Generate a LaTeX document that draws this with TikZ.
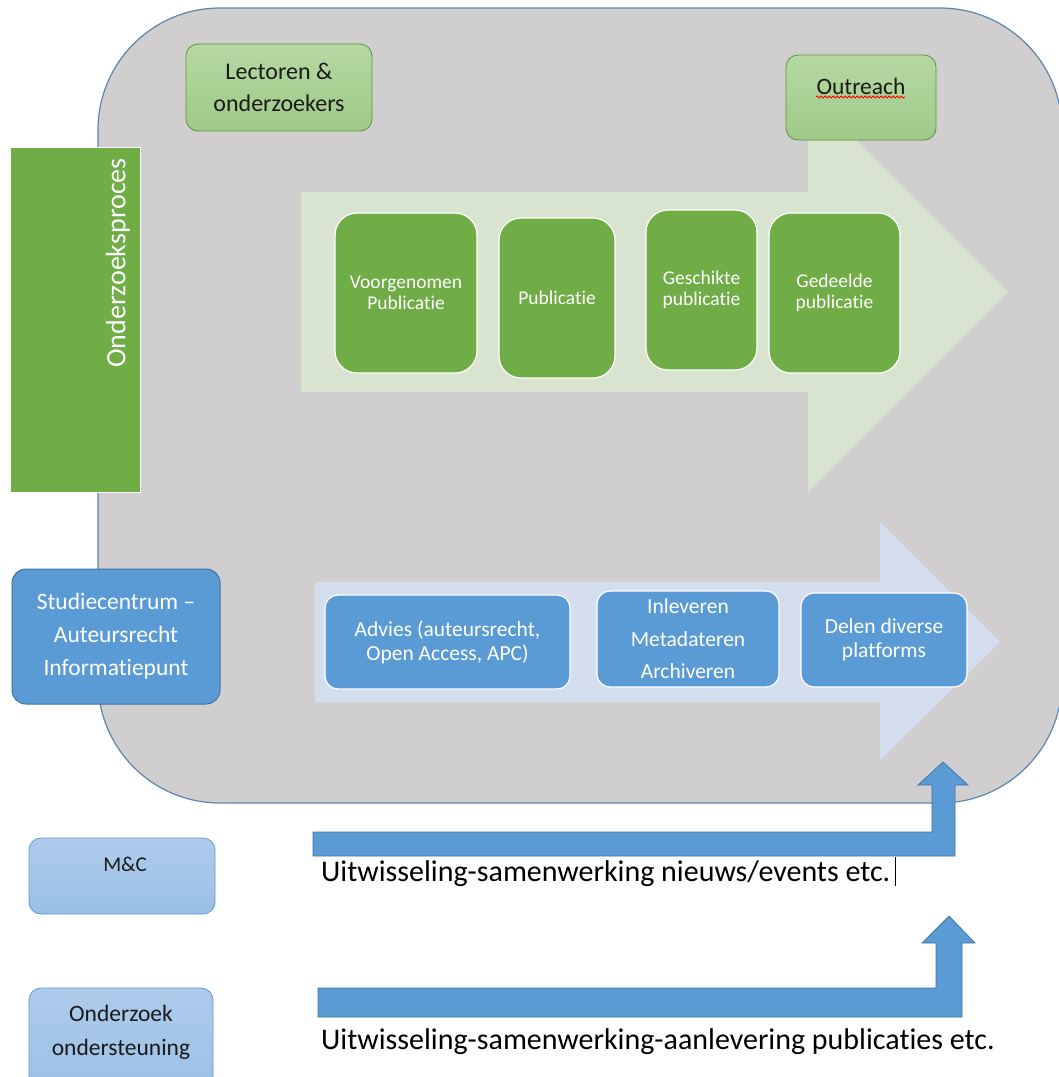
\documentclass[tikz,border=0pt]{standalone}
\usepackage{fontspec}
\setmainfont{Carlito}[Ligatures=NoCommon]
\usetikzlibrary{decorations.pathmorphing}
\definecolor{graybg}{HTML}{D0CECE}
\definecolor{boxblue}{HTML}{41719C}
\definecolor{pgreen}{HTML}{70AD47}
\definecolor{lgreen}{HTML}{D8E4D0}
\definecolor{lblue}{HTML}{D5DEEF}
\definecolor{pblue}{HTML}{5B9BD5}
\definecolor{gtop}{HTML}{B6D8A3}
\definecolor{gbot}{HTML}{9FCA88}
\definecolor{btop}{HTML}{AECBEB}
\definecolor{bbot}{HTML}{9AC0E6}
\definecolor{txt}{HTML}{1A1A1A}
\begin{document}
\begin{tikzpicture}[x=1pt,y=-1pt,
  lgbox/.style={rounded corners=12, draw=pgreen!85!black, line width=0.8, top color=gtop, bottom color=gbot, inner sep=0, text=txt, align=center},
  gstep/.style={rounded corners=22, draw=white, line width=1.2, fill=pgreen, inner sep=0, text=white, align=center, font=\fontsize{19.5}{21}\selectfont},
  bstep/.style={rounded corners=13, draw=white, line width=1.2, fill=pblue, inner sep=0, text=white, align=center, font=\fontsize{21.5}{24}\selectfont},
  lbbox/.style={rounded corners=12, draw=pblue, line width=0.8, top color=btop, bottom color=bbot, inner sep=0, text=txt, align=center},
  bentarrow/.style={fill=pblue, draw=boxblue, line width=0.7},
  plain/.style={inner sep=0, text=black, font=\fontsize{30}{34}\selectfont, anchor=west}
]
\useasboundingbox (0,0) rectangle (1059,1077);
\clip (0,0) rectangle (1059,1077);
% background panel
\draw[fill=graybg, draw=boxblue!85!white, line width=1.2, rounded corners=122] (98,8) rectangle (1062,803);
% big arrows
\fill[lgreen] (301,192) -- (808,192) -- (808,92) -- (1008,292) -- (808,492) -- (808,392) -- (301,392) -- cycle;
\fill[lblue] (315,582) -- (880,582) -- (880,522) -- (1000,642) -- (880,760) -- (880,702) -- (315,702) -- cycle;
% side labels
\node[draw=white, line width=1, fill=pgreen, minimum width=130, minimum height=345, inner sep=0] (proc) at (75,319.5) {};
\node[rotate=90, text=white, inner sep=0, font=\fontsize{28}{30}\selectfont] (proclab) at (118,263) {Onderzoeksproces};
\node[lgbox, minimum width=186, minimum height=87, font=\fontsize{24}{32}\selectfont] (lect) at (279,87.5) {Lectoren \&\\onderzoekers};
\node[lgbox, minimum width=150, minimum height=85] (outr) at (861,97.5) {};
\node[inner sep=0, text=txt, font=\fontsize{23.5}{26}\selectfont] (outrlab) at (861,86) {Outreach};
\draw[red, line width=0.8, decorate, decoration={snake, amplitude=1.1, segment length=4}] (816,97) -- (905,97);
% green steps
\node[gstep, minimum width=142, minimum height=160] (s1) at (406,293) {Voorgenomen\\Publicatie};
\node[gstep, minimum width=116, minimum height=160] (s2) at (557,298) {Publicatie};
\node[gstep, minimum width=111, minimum height=160] (s3) at (701.5,290) {Geschikte\\publicatie};
\node[gstep, minimum width=131, minimum height=160] (s4) at (834.5,293) {Gedeelde\\publicatie};
% blue steps
\node[rounded corners=14, draw=boxblue, line width=1, fill=pblue, inner sep=0, text=white, align=center, font=\fontsize{23.5}{33}\selectfont, minimum width=208, minimum height=135] (stud) at (116,636.5) {Studiecentrum --\\Auteursrecht\\Informatiepunt};
\node[bstep, minimum width=245, minimum height=94] (b1) at (447.5,642) {Advies (auteursrecht,\\Open Access, APC)};
\node[bstep, minimum width=182, minimum height=96, font=\fontsize{21.5}{32.5}\selectfont] (b2) at (688,639) {Inleveren\\Metadateren\\Archiveren};
\node[bstep, minimum width=166, minimum height=94] (b3) at (884,640) {Delen diverse\\platforms};
% lower boxes
\node[lbbox, minimum width=186, minimum height=76] (mc) at (122,876) {};
\node[inner sep=0, text=txt, font=\fontsize{21}{24}\selectfont] (mclab) at (125,864) {M\&C};
\node[lbbox, minimum width=184, minimum height=110] (oz) at (121,1043) {};
\node[inner sep=0, text=txt, align=center, font=\fontsize{23.5}{34}\selectfont] (ozlab) at (121,1032) {Onderzoek\\ondersteuning};
% bent arrows
\draw[bentarrow] (313,832) -- (932,832) -- (932,785) -- (918,785) -- (943,762) -- (968,785) -- (955,785) -- (955,856) -- (313,856) -- cycle;
\draw[bentarrow] (318,988) -- (936,988) -- (936,943) -- (922,943) -- (949,916) -- (975,943) -- (962,943) -- (962,1017) -- (318,1017) -- cycle;
% texts
\node[plain] (t1) at (321,874) {Uitwisseling-samenwerking nieuws/events etc.};
\node[plain] (t2) at (321,1042) {Uitwisseling-samenwerking-aanlevering publicaties etc.};
\draw[black, line width=0.6] (895,857) -- (895,886);
\end{tikzpicture}
\end{document}
